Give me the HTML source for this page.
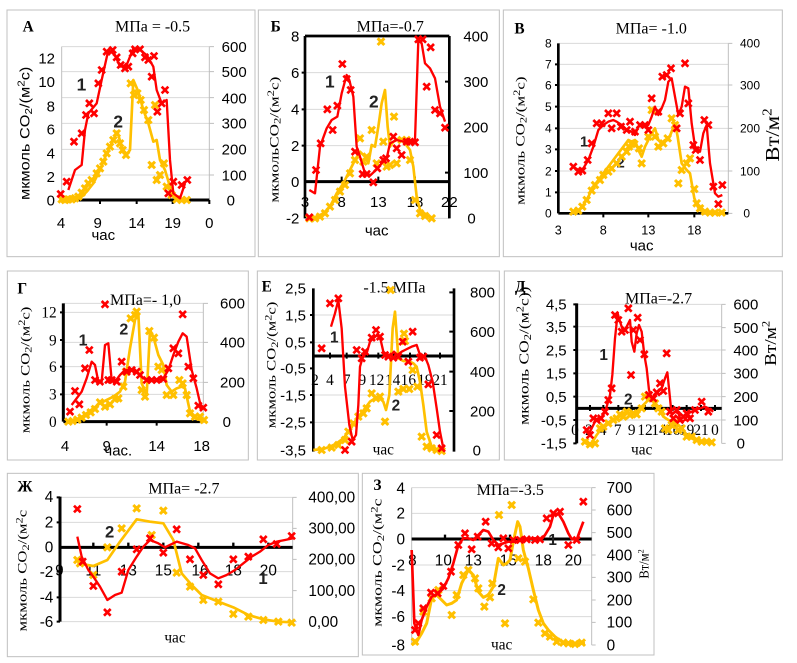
<!DOCTYPE html>
<html><head><meta charset="utf-8"><style>
html,body{margin:0;padding:0;background:#fff}
svg{display:block}
.s{font-family:"Liberation Sans",sans-serif}
.t{font-family:"Liberation Serif",serif}
.b{font-family:"Liberation Serif",serif;font-weight:bold}
.n{font-family:"Liberation Sans",sans-serif;font-weight:bold;fill:#222}
</style></head><body>
<svg width="797" height="663" viewBox="0 0 797 663" xmlns="http://www.w3.org/2000/svg">
<defs>
<g id="r"><path d="M-10,-10L10,10M-10,10L10,-10" stroke="#ff0000" stroke-width="8" fill="none"/></g>
<g id="y"><path d="M-10,-10L10,10M-10,10L10,-10" stroke="#ffc000" stroke-width="9" fill="none"/><path d="M0,-7V7M-7,0H7" stroke="#ffc000" stroke-width="5" fill="none"/></g>
</defs>
<rect width="797" height="663" fill="#fff"/>

<!-- ===== A ===== -->
<g transform="translate(0,0) scale(0.33333)">
<rect x="21" y="30" width="744" height="740" fill="none" stroke="#c0c0c0" stroke-width="3"/>
<g stroke="#d9d9d9" stroke-width="3"><line x1="185" x2="628" y1="140" y2="140"/><line x1="185" x2="628" y1="215" y2="215"/><line x1="185" x2="628" y1="293" y2="293"/><line x1="185" x2="628" y1="370" y2="370"/><line x1="185" x2="628" y1="448" y2="448"/><line x1="185" x2="628" y1="525" y2="525"/></g>
<g stroke="#bfbfbf" stroke-width="3"><line x1="185" x2="185" y1="140" y2="600"/><line x1="628" x2="628" y1="140" y2="600"/><path d="M628,140h14M628,215h14M628,293h14M628,370h14M628,448h14M628,525h14"/></g>
<line x1="185" x2="628" y1="600" y2="600" stroke="#000" stroke-width="9"/>
<path d="M300,600v12M410,600v12M518,600v12M628,600v12" stroke="#000" stroke-width="6"/>
<g class="s" font-size="45" text-anchor="end"><text x="165" y="191">12</text><text x="165" y="261">10</text><text x="165" y="334">8</text><text x="165" y="404">6</text><text x="165" y="476">4</text><text x="165" y="546">2</text><text x="165" y="616">0</text></g>
<g class="s" font-size="45"><text x="665" y="156">600</text><text x="665" y="231">500</text><text x="665" y="311">400</text><text x="665" y="386">300</text><text x="665" y="464">200</text><text x="665" y="541">100</text><text x="680" y="616">0</text></g>
<g class="s" font-size="45" text-anchor="middle"><text x="183" y="684">4</text><text x="293" y="684">9</text><text x="410" y="684">14</text><text x="518" y="684">19</text><text x="628" y="684">0</text><text x="310" y="720">час</text></g>
<text class="b" x="68" y="95" font-size="46">А</text>
<text class="t" x="345" y="95" font-size="48">МПа = -0.5</text>
<text class="s" font-size="42" text-anchor="middle" transform="rotate(-90,88,400)" x="88" y="400" textLength="400" lengthAdjust="spacingAndGlyphs">мкмоль CO<tspan font-size="30" dy="8">2</tspan><tspan dy="-8">/(м</tspan><tspan font-size="30" dy="-14">2</tspan><tspan dy="14">с)</tspan></text>
<text class="n" x="230" y="272" font-size="52">1</text><text class="n" x="340" y="382" font-size="52">2</text>
<polyline fill="none" stroke="#ffc000" stroke-width="8" stroke-linejoin="round" points="185,600 240,595 260,575 280,550 300,510 320,460 340,420 352,395 365,440 378,465 390,450 400,240 415,275 430,330 445,370 460,425 470,420 480,480 495,510 510,560 530,595 560,600"/>
<g><use href="#y" x="185" y="598"/><use href="#y" x="195" y="600"/><use href="#y" x="205" y="598"/><use href="#y" x="215" y="598"/><use href="#y" x="225" y="595"/><use href="#y" x="235" y="590"/><use href="#y" x="245" y="578"/><use href="#y" x="255" y="565"/><use href="#y" x="265" y="550"/><use href="#y" x="275" y="540"/><use href="#y" x="290" y="520"/><use href="#y" x="300" y="505"/><use href="#y" x="310" y="485"/><use href="#y" x="320" y="460"/><use href="#y" x="330" y="440"/><use href="#y" x="340" y="420"/><use href="#y" x="350" y="400"/><use href="#y" x="360" y="430"/><use href="#y" x="368" y="450"/><use href="#y" x="378" y="465"/><use href="#y" x="392" y="250"/><use href="#y" x="402" y="285"/><use href="#y" x="412" y="280"/><use href="#y" x="422" y="300"/><use href="#y" x="432" y="330"/><use href="#y" x="445" y="360"/><use href="#y" x="455" y="495"/><use href="#y" x="465" y="315"/><use href="#y" x="470" y="540"/><use href="#y" x="480" y="525"/><use href="#y" x="492" y="490"/><use href="#y" x="500" y="560"/><use href="#y" x="515" y="585"/><use href="#y" x="530" y="598"/><use href="#y" x="545" y="600"/><use href="#y" x="560" y="600"/></g>
<polyline fill="none" stroke="#ff0000" stroke-width="7" stroke-linejoin="round" points="205,570 225,510 245,495 255,390 265,340 290,310 305,240 325,150 345,165 360,200 380,195 400,145 420,150 440,165 460,200 470,270 485,310 500,300 510,480 520,580 540,595 555,550"/>
<g><use href="#r" x="182" y="582"/><use href="#r" x="200" y="545"/><use href="#r" x="222" y="425"/><use href="#r" x="245" y="400"/><use href="#r" x="258" y="345"/><use href="#r" x="268" y="310"/><use href="#r" x="282" y="340"/><use href="#r" x="295" y="250"/><use href="#r" x="305" y="210"/><use href="#r" x="320" y="155"/><use href="#r" x="338" y="150"/><use href="#r" x="350" y="172"/><use href="#r" x="362" y="195"/><use href="#r" x="375" y="205"/><use href="#r" x="385" y="200"/><use href="#r" x="398" y="160"/><use href="#r" x="405" y="148"/><use href="#r" x="420" y="148"/><use href="#r" x="435" y="172"/><use href="#r" x="445" y="180"/><use href="#r" x="462" y="168"/><use href="#r" x="455" y="230"/><use href="#r" x="472" y="335"/><use href="#r" x="485" y="310"/><use href="#r" x="495" y="270"/><use href="#r" x="505" y="580"/><use href="#r" x="520" y="545"/><use href="#r" x="545" y="555"/><use href="#r" x="562" y="540"/></g>
</g>

<!-- ===== Б ===== -->
<g transform="translate(250,0) scale(0.33333)">
<rect x="25" y="30" width="723" height="740" fill="none" stroke="#c0c0c0" stroke-width="3"/>
<g stroke="#d9d9d9" stroke-width="3"><line x1="165" x2="598" y1="218" y2="218"/><line x1="165" x2="598" y1="328" y2="328"/><line x1="165" x2="598" y1="437" y2="437"/><line x1="165" x2="598" y1="655" y2="655"/></g>
<g stroke="#000" stroke-width="8"><line x1="165" x2="165" y1="108" y2="655"/><line x1="598" x2="598" y1="108" y2="655"/><line x1="165" x2="598" y1="108" y2="108"/></g>
<path d="M585,245h13M585,382h13M585,518h13M155,218h10M155,328h10M155,437h10" stroke="#000" stroke-width="6"/>
<line x1="165" x2="598" y1="545" y2="545" stroke="#000" stroke-width="9"/>
<path d="M275,530v15M385,530v15M495,530v15" stroke="#000" stroke-width="6"/>
<g class="s" font-size="45" text-anchor="end"><text x="148" y="124">8</text><text x="148" y="234">6</text><text x="148" y="344">4</text><text x="148" y="453">2</text><text x="148" y="561">0</text><text x="148" y="671">-2</text></g>
<g class="s" font-size="45"><text x="640" y="124">400</text><text x="640" y="261">300</text><text x="640" y="398">200</text><text x="640" y="534">100</text><text x="652" y="671">0</text></g>
<g class="s" font-size="45" text-anchor="middle"><text x="165" y="621">3</text><text x="275" y="621">8</text><text x="385" y="621">13</text><text x="495" y="621">18</text><text x="598" y="621">22</text><text x="380" y="706">час</text></g>
<text class="b" x="62" y="95" font-size="46">Б</text>
<text class="t" x="320" y="95" font-size="48">МПа=-0.7</text>
<text class="t" font-size="38" text-anchor="middle" transform="rotate(-90,85,419)" x="85" y="419" textLength="378" lengthAdjust="spacingAndGlyphs">мкмольCO<tspan font-size="28" dy="7">2</tspan><tspan dy="-7">/(м</tspan><tspan font-size="28" dy="-13">2</tspan><tspan dy="13">с)</tspan></text>
<text class="n" x="225" y="262" font-size="52">1</text><text class="n" x="357" y="322" font-size="52">2</text>
<polyline fill="none" stroke="#ffc000" stroke-width="8" stroke-linejoin="round" points="178,655 200,650 220,640 240,620 260,580 280,550 300,510 315,480 330,455 345,470 355,490 365,435 375,440 385,380 395,310 405,270 413,380 420,440 430,425 440,420 450,415 465,430 480,450 490,500 500,590 510,630 530,645 550,655"/>
<g><use href="#y" x="178" y="655"/><use href="#y" x="195" y="655"/><use href="#y" x="210" y="650"/><use href="#y" x="225" y="640"/><use href="#y" x="240" y="620"/><use href="#y" x="255" y="600"/><use href="#y" x="270" y="575"/><use href="#y" x="285" y="555"/><use href="#y" x="300" y="520"/><use href="#y" x="315" y="480"/><use href="#y" x="330" y="415"/><use href="#y" x="340" y="485"/><use href="#y" x="350" y="470"/><use href="#y" x="365" y="390"/><use href="#y" x="380" y="490"/><use href="#y" x="393" y="125"/><use href="#y" x="400" y="425"/><use href="#y" x="410" y="500"/><use href="#y" x="420" y="495"/><use href="#y" x="432" y="350"/><use href="#y" x="440" y="490"/><use href="#y" x="455" y="420"/><use href="#y" x="470" y="420"/><use href="#y" x="480" y="480"/><use href="#y" x="495" y="600"/><use href="#y" x="510" y="640"/><use href="#y" x="525" y="648"/><use href="#y" x="545" y="655"/></g>
<polyline fill="none" stroke="#ff0000" stroke-width="7" stroke-linejoin="round" points="178,570 195,580 210,440 230,385 245,360 262,350 275,280 290,225 298,240 310,290 320,440 330,470 345,520 362,525 378,510 395,490 410,475 420,430 440,420 460,425 480,430 495,420 505,120 515,130 525,190 540,205 555,235 570,320 585,365"/>
<g><use href="#r" x="178" y="652"/><use href="#r" x="198" y="510"/><use href="#r" x="212" y="430"/><use href="#r" x="232" y="328"/><use href="#r" x="248" y="390"/><use href="#r" x="262" y="317"/><use href="#r" x="277" y="192"/><use href="#r" x="290" y="237"/><use href="#r" x="302" y="270"/><use href="#r" x="315" y="455"/><use href="#r" x="338" y="522"/><use href="#r" x="350" y="522"/><use href="#r" x="370" y="547"/><use href="#r" x="382" y="505"/><use href="#r" x="400" y="480"/><use href="#r" x="408" y="475"/><use href="#r" x="430" y="410"/><use href="#r" x="440" y="445"/><use href="#r" x="455" y="465"/><use href="#r" x="470" y="425"/><use href="#r" x="480" y="425"/><use href="#r" x="495" y="427"/><use href="#r" x="505" y="118"/><use href="#r" x="518" y="118"/><use href="#r" x="530" y="260"/><use href="#r" x="542" y="142"/><use href="#r" x="555" y="330"/><use href="#r" x="570" y="340"/><use href="#r" x="585" y="383"/></g>
</g>

<!-- ===== В ===== -->
<g transform="translate(495,0) scale(0.33333)">
<rect x="25" y="30" width="837" height="740" fill="none" stroke="#c0c0c0" stroke-width="3"/>
<g stroke="#d9d9d9" stroke-width="3"><line x1="190" x2="700" y1="130" y2="130"/><line x1="190" x2="700" y1="193" y2="193"/><line x1="190" x2="700" y1="255" y2="255"/><line x1="190" x2="700" y1="320" y2="320"/><line x1="190" x2="700" y1="385" y2="385"/><line x1="190" x2="700" y1="448" y2="448"/><line x1="190" x2="700" y1="513" y2="513"/><line x1="190" x2="700" y1="577" y2="577"/></g>
<g stroke="#bfbfbf" stroke-width="3"><line x1="700" x2="700" y1="130" y2="640"/><path d="M700,130h12M700,255h12M700,385h12M700,513h12M700,640h12"/></g>
<line x1="190" x2="190" y1="130" y2="640" stroke="#000" stroke-width="8"/>
<line x1="190" x2="700" y1="640" y2="640" stroke="#000" stroke-width="8"/>
<path d="M325,640v12M460,640v12M598,640v12M180,193h10M180,255h10M180,320h10M180,385h10M180,448h10M180,513h10M180,577h10" stroke="#000" stroke-width="6"/>
<g class="s" font-size="36" text-anchor="end"><text x="170" y="143">8</text><text x="170" y="206">7</text><text x="170" y="268">6</text><text x="170" y="333">5</text><text x="170" y="398">4</text><text x="170" y="461">3</text><text x="170" y="526">2</text><text x="170" y="590">1</text><text x="170" y="653">0</text></g>
<g class="s" font-size="36"><text x="735" y="143">400</text><text x="735" y="268">300</text><text x="735" y="398">200</text><text x="735" y="526">100</text><text x="745" y="653">0</text></g>
<g class="s" font-size="38" text-anchor="middle"><text x="190" y="703">3</text><text x="325" y="703">8</text><text x="460" y="703">13</text><text x="598" y="703">18</text><text x="440" y="752" font-size="45">час</text></g>
<text class="b" x="58" y="100" font-size="46">В</text>
<text class="t" x="362" y="100" font-size="48">МПа= -1.0</text>
<text class="t" font-size="38" text-anchor="middle" transform="rotate(-90,88,422)" x="88" y="422" textLength="385" lengthAdjust="spacingAndGlyphs">мкмоль CO<tspan font-size="28" dy="7">2</tspan><tspan dy="-7">/(м</tspan><tspan font-size="28" dy="-13">2</tspan><tspan dy="13">с)</tspan></text>
<text class="t" font-size="60" text-anchor="middle" transform="rotate(-90,852,405)" x="852" y="405" textLength="160" lengthAdjust="spacingAndGlyphs">Вт/м<tspan font-size="40" dy="-22">2</tspan></text>
<text class="n" x="255" y="440" font-size="44">1</text><text class="n" x="365" y="502" font-size="44">2</text>
<polyline fill="none" stroke="#ffc000" stroke-width="8" stroke-linejoin="round" points="235,640 250,635 265,615 280,590 295,560 310,540 325,520 340,500 355,480 370,460 385,440 400,420 410,425 420,420 430,450 440,470 450,440 460,420 470,400 480,385 490,420 500,430 510,420 520,420 530,395 540,370 548,410 560,490 575,510 585,520 598,595 612,628 630,640 690,640"/>
<g><use href="#y" x="235" y="635"/><use href="#y" x="250" y="632"/><use href="#y" x="262" y="620"/><use href="#y" x="275" y="600"/><use href="#y" x="290" y="572"/><use href="#y" x="300" y="555"/><use href="#y" x="315" y="540"/><use href="#y" x="325" y="525"/><use href="#y" x="340" y="515"/><use href="#y" x="350" y="505"/><use href="#y" x="365" y="490"/><use href="#y" x="380" y="470"/><use href="#y" x="395" y="455"/><use href="#y" x="402" y="440"/><use href="#y" x="410" y="432"/><use href="#y" x="418" y="432"/><use href="#y" x="432" y="445"/><use href="#y" x="440" y="490"/><use href="#y" x="460" y="410"/><use href="#y" x="470" y="330"/><use href="#y" x="480" y="410"/><use href="#y" x="490" y="440"/><use href="#y" x="505" y="430"/><use href="#y" x="518" y="415"/><use href="#y" x="530" y="355"/><use href="#y" x="540" y="375"/><use href="#y" x="550" y="550"/><use href="#y" x="560" y="510"/><use href="#y" x="575" y="490"/><use href="#y" x="585" y="475"/><use href="#y" x="598" y="567"/><use href="#y" x="605" y="610"/><use href="#y" x="615" y="625"/><use href="#y" x="630" y="635"/><use href="#y" x="645" y="638"/><use href="#y" x="660" y="638"/><use href="#y" x="680" y="638"/></g>
<polyline fill="none" stroke="#ff0000" stroke-width="7" stroke-linejoin="round" points="235,500 250,510 265,505 280,480 295,440 310,390 325,375 340,365 355,360 365,365 380,375 395,390 410,395 420,405 430,380 445,375 460,375 470,350 480,320 490,345 500,325 510,300 520,245 530,235 540,290 550,345 560,320 570,260 580,265 590,370 600,440 615,455 625,400 635,375 645,490 660,580 670,590 682,585"/>
<g><use href="#r" x="235" y="500"/><use href="#r" x="250" y="515"/><use href="#r" x="262" y="512"/><use href="#r" x="278" y="480"/><use href="#r" x="290" y="430"/><use href="#r" x="305" y="370"/><use href="#r" x="320" y="370"/><use href="#r" x="340" y="340"/><use href="#r" x="350" y="385"/><use href="#r" x="365" y="340"/><use href="#r" x="378" y="380"/><use href="#r" x="395" y="390"/><use href="#r" x="405" y="365"/><use href="#r" x="420" y="395"/><use href="#r" x="435" y="375"/><use href="#r" x="450" y="375"/><use href="#r" x="460" y="390"/><use href="#r" x="470" y="295"/><use href="#r" x="490" y="335"/><use href="#r" x="502" y="230"/><use href="#r" x="515" y="225"/><use href="#r" x="528" y="205"/><use href="#r" x="545" y="385"/><use href="#r" x="555" y="340"/><use href="#r" x="570" y="190"/><use href="#r" x="580" y="310"/><use href="#r" x="595" y="435"/><use href="#r" x="602" y="450"/><use href="#r" x="615" y="480"/><use href="#r" x="628" y="360"/><use href="#r" x="640" y="375"/><use href="#r" x="655" y="560"/><use href="#r" x="670" y="612"/><use href="#r" x="682" y="555"/></g>
</g>

<!-- ===== Г ===== -->
<g transform="translate(0,255) scale(0.33333)">
<rect x="22" y="48" width="723" height="567" fill="none" stroke="#c0c0c0" stroke-width="3"/>
<g stroke="#d9d9d9" stroke-width="3"><line x1="190" x2="610" y1="145" y2="145"/><line x1="190" x2="610" y1="172" y2="172"/><line x1="190" x2="610" y1="262" y2="262"/><line x1="190" x2="610" y1="335" y2="335"/><line x1="190" x2="610" y1="382" y2="382"/><line x1="190" x2="610" y1="418" y2="418"/></g>
<g stroke="#bfbfbf" stroke-width="3"><line x1="610" x2="610" y1="145" y2="500"/><path d="M610,145h14M610,262h14M610,382h14M610,500h14"/></g>
<line x1="190" x2="190" y1="145" y2="500" stroke="#000" stroke-width="9"/>
<line x1="190" x2="610" y1="500" y2="500" stroke="#000" stroke-width="9"/>
<path d="M320,500v12M470,500v12M180,172h10M180,255h10M180,335h10M180,418h10" stroke="#000" stroke-width="6"/>
<g class="t" font-size="46" text-anchor="end"><text x="170" y="188">12</text><text x="170" y="271">9</text><text x="170" y="351">6</text><text x="170" y="434">3</text><text x="170" y="516">0</text></g>
<g class="s" font-size="45"><text x="660" y="161">600</text><text x="660" y="278">400</text><text x="660" y="398">200</text><text x="668" y="516">0</text></g>
<g class="s" font-size="45" text-anchor="middle"><text x="195" y="588">4</text><text x="320" y="588">9</text><text x="470" y="588">14</text><text x="605" y="588">18</text><text x="355" y="602">час.</text></g>
<text class="b" x="52" y="115" font-size="46">Г</text>
<text class="t" x="330" y="150" font-size="48">МПа=- 1,0</text>
<text class="t" font-size="38" text-anchor="middle" transform="rotate(-90,88,345)" x="88" y="345" textLength="380" lengthAdjust="spacingAndGlyphs">мкмоль CO<tspan font-size="28" dy="7">2</tspan><tspan dy="-7">/(м</tspan><tspan font-size="28" dy="-13">2</tspan><tspan dy="13">с)</tspan></text>
<text class="n" x="236" y="272" font-size="48">1</text><text class="n" x="358" y="238" font-size="48">2</text>
<polyline fill="none" stroke="#ffc000" stroke-width="8" stroke-linejoin="round" points="200,500 220,498 240,490 260,475 280,460 300,445 320,435 340,425 360,410 375,380 390,280 405,195 415,175 425,385 440,420 450,225 460,245 475,300 490,330 500,390 515,410 530,400 545,395 555,400 570,470 585,490 600,495 615,500"/>
<g><use href="#y" x="205" y="500"/><use href="#y" x="218" y="498"/><use href="#y" x="232" y="494"/><use href="#y" x="245" y="488"/><use href="#y" x="258" y="480"/><use href="#y" x="272" y="472"/><use href="#y" x="285" y="462"/><use href="#y" x="300" y="442"/><use href="#y" x="315" y="455"/><use href="#y" x="330" y="448"/><use href="#y" x="345" y="432"/><use href="#y" x="355" y="430"/><use href="#y" x="370" y="395"/><use href="#y" x="378" y="350"/><use href="#y" x="392" y="190"/><use href="#y" x="405" y="180"/><use href="#y" x="410" y="170"/><use href="#y" x="425" y="405"/><use href="#y" x="435" y="425"/><use href="#y" x="448" y="228"/><use href="#y" x="462" y="248"/><use href="#y" x="475" y="335"/><use href="#y" x="485" y="345"/><use href="#y" x="500" y="420"/><use href="#y" x="520" y="420"/><use href="#y" x="538" y="375"/><use href="#y" x="548" y="385"/><use href="#y" x="560" y="420"/><use href="#y" x="570" y="475"/><use href="#y" x="585" y="485"/><use href="#y" x="600" y="485"/><use href="#y" x="612" y="495"/></g>
<polyline fill="none" stroke="#ff0000" stroke-width="7" stroke-linejoin="round" points="215,450 230,430 245,410 260,370 275,320 285,330 295,380 305,380 315,270 325,265 335,375 345,380 360,360 375,345 390,345 405,350 420,360 430,370 445,375 460,378 475,375 490,370 505,345 520,300 535,260 548,235 560,245 575,345 590,400 605,465"/>
<g><use href="#r" x="210" y="470"/><use href="#r" x="225" y="408"/><use href="#r" x="238" y="448"/><use href="#r" x="255" y="340"/><use href="#r" x="268" y="285"/><use href="#r" x="285" y="375"/><use href="#r" x="300" y="380"/><use href="#r" x="315" y="148"/><use href="#r" x="325" y="375"/><use href="#r" x="335" y="375"/><use href="#r" x="350" y="380"/><use href="#r" x="365" y="320"/><use href="#r" x="380" y="350"/><use href="#r" x="395" y="345"/><use href="#r" x="410" y="350"/><use href="#r" x="420" y="360"/><use href="#r" x="440" y="375"/><use href="#r" x="455" y="375"/><use href="#r" x="470" y="375"/><use href="#r" x="490" y="372"/><use href="#r" x="505" y="340"/><use href="#r" x="520" y="280"/><use href="#r" x="535" y="295"/><use href="#r" x="548" y="178"/><use href="#r" x="565" y="335"/><use href="#r" x="580" y="370"/><use href="#r" x="595" y="452"/><use href="#r" x="610" y="458"/></g>
</g>

<!-- ===== Е ===== -->
<g transform="translate(250,255) scale(0.33333)">
<rect x="22" y="48" width="726" height="567" fill="none" stroke="#c0c0c0" stroke-width="3"/>
<g stroke="#d9d9d9" stroke-width="3"><line x1="190" x2="612" y1="180" y2="180"/><line x1="190" x2="612" y1="262" y2="262"/><line x1="190" x2="612" y1="420" y2="420"/><line x1="190" x2="612" y1="502" y2="502"/></g>
<g stroke="#000" stroke-width="8"><line x1="190" x2="190" y1="100" y2="590"/><line x1="612" x2="612" y1="100" y2="590"/></g>
<path d="M180,180h10M180,262h10M180,340h10M180,420h10M180,502h10M598,112h14M598,230h14M598,350h14M598,468h14" stroke="#000" stroke-width="6"/>
<line x1="190" x2="612" y1="303" y2="303" stroke="#000" stroke-width="9"/>
<path d="M240,293v18M290,293v18M337,293v18M385,293v18M432,293v18M480,293v18M525,293v18M570,293v18" stroke="#000" stroke-width="6"/>
<g class="s" font-size="45" text-anchor="end"><text x="168" y="116">2,5</text><text x="168" y="196">1,5</text><text x="168" y="278">0,5</text><text x="168" y="356">-0,5</text><text x="168" y="436">-1,5</text><text x="168" y="518">-2,5</text><text x="168" y="601">-3,5</text></g>
<g class="s" font-size="45"><text x="660" y="128">800</text><text x="660" y="246">600</text><text x="660" y="366">400</text><text x="660" y="484">200</text><text x="668" y="601">0</text></g>
<g class="t" font-size="46" text-anchor="middle"><text x="195" y="390">2</text><text x="240" y="390">4</text><text x="290" y="390">7</text><text x="337" y="390">9</text><text x="380" y="390">12</text><text x="428" y="390">14</text><text x="475" y="390">16</text><text x="525" y="390">19</text><text x="570" y="390">21</text><text x="400" y="598">час</text></g>
<text class="b" x="35" y="110" font-size="46">Е</text>
<text class="t" x="340" y="112" font-size="48">-1.5 МПа</text>
<text class="t" font-size="38" text-anchor="middle" transform="rotate(-90,77,330)" x="77" y="330" textLength="380" lengthAdjust="spacingAndGlyphs">мкмоль CO<tspan font-size="28" dy="7">2</tspan><tspan dy="-7">/(м</tspan><tspan font-size="28" dy="-13">2</tspan><tspan dy="13">с)</tspan></text>
<text class="n" x="240" y="262" font-size="46">1</text><text class="n" x="425" y="466" font-size="46">2</text>
<polyline fill="none" stroke="#ffc000" stroke-width="8" stroke-linejoin="round" points="190,585 220,582 240,575 260,565 280,550 300,525 315,500 330,480 345,460 360,440 375,430 390,430 400,440 408,465 418,420 428,220 435,170 440,240 445,310 460,318 475,318 490,325 500,335 510,380 520,450 530,530 545,575 560,585 575,588"/>
<g><use href="#y" x="215" y="585"/><use href="#y" x="245" y="578"/><use href="#y" x="265" y="570"/><use href="#y" x="285" y="555"/><use href="#y" x="295" y="530"/><use href="#y" x="310" y="505"/><use href="#y" x="325" y="485"/><use href="#y" x="340" y="475"/><use href="#y" x="350" y="460"/><use href="#y" x="365" y="415"/><use href="#y" x="378" y="430"/><use href="#y" x="390" y="425"/><use href="#y" x="405" y="500"/><use href="#y" x="422" y="105"/><use href="#y" x="445" y="410"/><use href="#y" x="460" y="402"/><use href="#y" x="478" y="402"/><use href="#y" x="462" y="236"/><use href="#y" x="465" y="258"/><use href="#y" x="488" y="345"/><use href="#y" x="502" y="395"/><use href="#y" x="515" y="545"/><use href="#y" x="530" y="575"/><use href="#y" x="545" y="580"/><use href="#y" x="560" y="585"/><use href="#y" x="575" y="588"/></g>
<polyline fill="none" stroke="#ff0000" stroke-width="7" stroke-linejoin="round" points="243,215 255,175 265,135 275,220 285,395 298,510 308,555 318,540 325,450 330,335 340,300 350,295 360,260 372,248 382,240 392,255 400,290 412,300 425,298 432,290 442,300 455,290 465,285 475,280 485,275 500,270 510,300 525,305 535,330 548,380 560,460 570,530 580,580"/>
<g><use href="#r" x="215" y="280"/><use href="#r" x="240" y="145"/><use href="#r" x="265" y="130"/><use href="#r" x="285" y="585"/><use href="#r" x="305" y="560"/><use href="#r" x="320" y="285"/><use href="#r" x="335" y="310"/><use href="#r" x="345" y="290"/><use href="#r" x="365" y="248"/><use href="#r" x="378" y="225"/><use href="#r" x="390" y="245"/><use href="#r" x="405" y="300"/><use href="#r" x="415" y="305"/><use href="#r" x="430" y="308"/><use href="#r" x="445" y="305"/><use href="#r" x="458" y="260"/><use href="#r" x="475" y="320"/><use href="#r" x="488" y="230"/><use href="#r" x="510" y="308"/><use href="#r" x="520" y="305"/><use href="#r" x="535" y="388"/><use href="#r" x="560" y="540"/><use href="#r" x="575" y="580"/></g>
</g>

<!-- ===== Д ===== -->
<g transform="translate(495,255) scale(0.33333)">
<rect x="28" y="48" width="834" height="567" fill="none" stroke="#c0c0c0" stroke-width="3"/>
<g stroke="#d9d9d9" stroke-width="3"><line x1="245" x2="680" y1="148" y2="148"/><line x1="245" x2="680" y1="215" y2="215"/><line x1="245" x2="680" y1="285" y2="285"/><line x1="245" x2="680" y1="355" y2="355"/><line x1="245" x2="680" y1="425" y2="425"/><line x1="245" x2="680" y1="495" y2="495"/></g>
<g stroke="#bfbfbf" stroke-width="3"><line x1="680" x2="680" y1="148" y2="565"/><path d="M680,148h12M680,218h12M680,285h12M680,355h12M680,425h12M680,495h12M680,565h12"/></g>
<line x1="245" x2="245" y1="145" y2="565" stroke="#000" stroke-width="9"/>
<path d="M235,148h10M235,215h10M235,285h10M235,355h10M235,425h10M235,495h10M235,565h10" stroke="#000" stroke-width="6"/>
<line x1="245" x2="680" y1="460" y2="460" stroke="#000" stroke-width="9"/>
<path d="M285,450v18M325,450v18M370,450v18M410,450v18M450,450v18M492,450v18M533,450v18M575,450v18M618,450v18M660,450v18" stroke="#000" stroke-width="6"/>
<g class="s" font-size="45" text-anchor="end"><text x="215" y="164">4,5</text><text x="215" y="231">3,5</text><text x="215" y="301">2,5</text><text x="215" y="371">1,5</text><text x="215" y="441">0,5</text><text x="215" y="511">-0,5</text><text x="215" y="581">-1,5</text></g>
<g class="s" font-size="45"><text x="715" y="164">600</text><text x="715" y="234">500</text><text x="715" y="301">400</text><text x="715" y="371">300</text><text x="715" y="441">200</text><text x="715" y="511">100</text><text x="725" y="581">0</text></g>
<g class="t" font-size="46" text-anchor="middle"><text x="240" y="540">0</text><text x="282" y="540">2</text><text x="323" y="540">4</text><text x="368" y="540">7</text><text x="410" y="540">9</text><text x="450" y="540">12</text><text x="492" y="540">14</text><text x="533" y="540">16</text><text x="575" y="540">19</text><text x="618" y="540">21</text><text x="660" y="540">0</text><text x="440" y="598">час</text></g>
<text class="b" x="60" y="110" font-size="46">Д</text>
<text class="t" x="390" y="145" font-size="48">МПа=-2.7</text>
<text class="t" font-size="42" text-anchor="middle" transform="rotate(-90,100,302)" x="100" y="302" textLength="415" lengthAdjust="spacingAndGlyphs">мкмоль CO<tspan font-size="30" dy="8">2</tspan><tspan dy="-8">/(м</tspan><tspan font-size="30" dy="-14">2</tspan><tspan dy="14">с))</tspan></text>
<text class="t" font-size="52" text-anchor="middle" transform="rotate(-90,843,265)" x="843" y="265" textLength="135" lengthAdjust="spacingAndGlyphs">Вт/м<tspan font-size="34" dy="-20">2</tspan></text>
<text class="n" x="313" y="315" font-size="46">1</text><text class="n" x="387" y="448" font-size="46">2</text>
<polyline fill="none" stroke="#ffc000" stroke-width="8" stroke-linejoin="round" points="270,565 290,565 305,540 320,520 335,510 350,500 365,490 380,480 395,470 410,478 425,470 440,455 455,440 465,420 475,435 490,460 505,485 520,495 540,500 560,520 580,545 600,555 620,560 650,565"/>
<g><use href="#y" x="270" y="560"/><use href="#y" x="285" y="568"/><use href="#y" x="300" y="565"/><use href="#y" x="315" y="520"/><use href="#y" x="325" y="515"/><use href="#y" x="340" y="505"/><use href="#y" x="355" y="495"/><use href="#y" x="365" y="490"/><use href="#y" x="375" y="478"/><use href="#y" x="385" y="485"/><use href="#y" x="395" y="470"/><use href="#y" x="405" y="480"/><use href="#y" x="415" y="475"/><use href="#y" x="425" y="478"/><use href="#y" x="440" y="460"/><use href="#y" x="450" y="425"/><use href="#y" x="460" y="420"/><use href="#y" x="470" y="430"/><use href="#y" x="480" y="445"/><use href="#y" x="490" y="460"/><use href="#y" x="500" y="470"/><use href="#y" x="510" y="520"/><use href="#y" x="520" y="525"/><use href="#y" x="530" y="510"/><use href="#y" x="540" y="505"/><use href="#y" x="550" y="525"/><use href="#y" x="560" y="520"/><use href="#y" x="575" y="545"/><use href="#y" x="590" y="545"/><use href="#y" x="605" y="555"/><use href="#y" x="620" y="560"/><use href="#y" x="635" y="560"/><use href="#y" x="650" y="562"/></g>
<polyline fill="none" stroke="#ff0000" stroke-width="7" stroke-linejoin="round" points="280,540 290,520 300,500 315,490 325,480 335,455 345,420 352,360 360,250 368,175 375,200 385,230 395,215 405,195 410,260 418,290 425,235 432,210 440,230 448,300 455,340 462,405 470,430 480,420 490,410 500,400 510,370 517,352 522,400 530,480 540,470 550,475 560,500 570,495 580,475 590,470 600,465 615,460 630,455 640,460 655,470"/>
<g><use href="#r" x="275" y="525"/><use href="#r" x="285" y="540"/><use href="#r" x="295" y="490"/><use href="#r" x="305" y="495"/><use href="#r" x="318" y="490"/><use href="#r" x="330" y="470"/><use href="#r" x="340" y="435"/><use href="#r" x="350" y="400"/><use href="#r" x="360" y="180"/><use href="#r" x="370" y="195"/><use href="#r" x="380" y="230"/><use href="#r" x="390" y="225"/><use href="#r" x="400" y="160"/><use href="#r" x="408" y="360"/><use href="#r" x="415" y="225"/><use href="#r" x="428" y="188"/><use href="#r" x="435" y="255"/><use href="#r" x="448" y="298"/><use href="#r" x="462" y="420"/><use href="#r" x="475" y="430"/><use href="#r" x="485" y="412"/><use href="#r" x="495" y="385"/><use href="#r" x="505" y="408"/><use href="#r" x="515" y="295"/><use href="#r" x="525" y="470"/><use href="#r" x="535" y="490"/><use href="#r" x="545" y="465"/><use href="#r" x="555" y="495"/><use href="#r" x="565" y="485"/><use href="#r" x="575" y="475"/><use href="#r" x="585" y="490"/><use href="#r" x="600" y="465"/><use href="#r" x="620" y="440"/><use href="#r" x="640" y="470"/></g>
</g>

<!-- ===== Ж ===== -->
<g transform="translate(0,460) scale(0.33333)">
<rect x="22" y="40" width="1053" height="550" fill="none" stroke="#c0c0c0" stroke-width="3"/>
<g stroke="#d9d9d9" stroke-width="3"><line x1="180" x2="878" y1="112" y2="112"/><line x1="180" x2="878" y1="187" y2="187"/><line x1="180" x2="878" y1="335" y2="335"/><line x1="180" x2="878" y1="412" y2="412"/><line x1="180" x2="878" y1="485" y2="485"/></g>
<g stroke="#bfbfbf" stroke-width="3"><line x1="878" x2="878" y1="112" y2="485"/><path d="M878,112h12M878,205h12M878,298h12M878,392h12M878,485h12"/></g>
<line x1="180" x2="180" y1="110" y2="485" stroke="#000" stroke-width="9"/>
<path d="M170,112h10M170,187h10M170,335h10M170,412h10M170,485h10" stroke="#000" stroke-width="6"/>
<line x1="180" x2="878" y1="262" y2="262" stroke="#000" stroke-width="9"/>
<path d="M280,248v14M385,248v14M490,248v14M595,248v14M700,248v14M805,248v14" stroke="#000" stroke-width="7"/>
<g class="s" font-size="46" text-anchor="end"><text x="160" y="126">4</text><text x="160" y="203">2</text><text x="160" y="278">0</text><text x="160" y="351">-2</text><text x="160" y="428">-4</text><text x="160" y="501">-6</text></g>
<g class="s" font-size="46"><text x="925" y="128">400,00</text><text x="925" y="221">300,00</text><text x="925" y="314">200,00</text><text x="925" y="408">100,00</text><text x="925" y="501">0,00</text></g>
<g class="s" font-size="46" text-anchor="middle"><text x="178" y="346">9</text><text x="280" y="346">11</text><text x="385" y="346">13</text><text x="490" y="346">15</text><text x="600" y="346">16</text><text x="700" y="346">18</text><text x="805" y="346">20</text></g>
<text class="t" x="525" y="548" font-size="46" text-anchor="middle">час</text>
<text class="b" x="52" y="95" font-size="46">Ж</text>
<text class="t" x="445" y="100" font-size="48">МПа= -2.7</text>
<text class="t" font-size="38" text-anchor="middle" transform="rotate(-90,80,332)" x="80" y="332" textLength="365" lengthAdjust="spacingAndGlyphs">мкмоль CO<tspan font-size="28" dy="7">2</tspan><tspan dy="-7">/(м</tspan><tspan font-size="28" dy="-13">2</tspan><tspan dy="13">с</tspan></text>
<text class="n" x="775" y="372" font-size="50">1</text><text class="n" x="315" y="232" font-size="50">2</text>
<polyline fill="none" stroke="#ffc000" stroke-width="8" stroke-linejoin="round" points="232,310 280,318 322,300 360,245 410,178 450,185 490,190 520,240 545,340 575,375 605,405 655,425 700,442 745,465 790,478 835,485 878,487"/>
<g><use href="#y" x="232" y="300"/><use href="#y" x="240" y="310"/><use href="#y" x="280" y="345"/><use href="#y" x="322" y="262"/><use href="#y" x="365" y="205"/><use href="#y" x="410" y="145"/><use href="#y" x="455" y="225"/><use href="#y" x="490" y="152"/><use href="#y" x="530" y="338"/><use href="#y" x="570" y="380"/><use href="#y" x="610" y="420"/><use href="#y" x="655" y="425"/><use href="#y" x="700" y="462"/><use href="#y" x="745" y="470"/><use href="#y" x="790" y="480"/><use href="#y" x="835" y="485"/><use href="#y" x="875" y="488"/></g>
<polyline fill="none" stroke="#ff0000" stroke-width="7" stroke-linejoin="round" points="232,230 245,290 265,330 280,350 300,380 322,420 345,405 365,398 385,330 410,290 430,260 450,240 475,250 495,262 530,245 565,255 585,265 605,300 630,340 655,355 680,345 705,330 730,310 755,290 780,275 805,255 830,245 855,240 878,235"/>
<g><use href="#r" x="232" y="147"/><use href="#r" x="248" y="305"/><use href="#r" x="280" y="378"/><use href="#r" x="322" y="457"/><use href="#r" x="365" y="335"/><use href="#r" x="410" y="268"/><use href="#r" x="450" y="235"/><use href="#r" x="490" y="278"/><use href="#r" x="530" y="208"/><use href="#r" x="570" y="298"/><use href="#r" x="610" y="345"/><use href="#r" x="655" y="373"/><use href="#r" x="700" y="298"/><use href="#r" x="745" y="290"/><use href="#r" x="790" y="238"/><use href="#r" x="830" y="252"/><use href="#r" x="875" y="228"/></g>
</g>

<!-- ===== З ===== -->
<g transform="translate(355,460) scale(0.33333)">
<rect x="22" y="40" width="875" height="545" fill="none" stroke="#c0c0c0" stroke-width="3"/>
<g stroke="#d9d9d9" stroke-width="3"><line x1="170" x2="710" y1="83" y2="83"/><line x1="170" x2="710" y1="160" y2="160"/><line x1="170" x2="710" y1="315" y2="315"/><line x1="170" x2="710" y1="392" y2="392"/><line x1="170" x2="710" y1="470" y2="470"/></g>
<g stroke="#bfbfbf" stroke-width="3"><line x1="170" x2="170" y1="83" y2="555"/><line x1="710" x2="710" y1="83" y2="555"/><path d="M710,83h12M710,150h12M710,218h12M710,285h12M710,352h12M710,420h12M710,487h12M710,555h12"/></g>
<line x1="170" x2="710" y1="237" y2="237" stroke="#000" stroke-width="9"/>
<path d="M270,224v13M370,224v13M465,224v13" stroke="#000" stroke-width="7"/>
<g class="s" font-size="46" text-anchor="end"><text x="150" y="101">4</text><text x="150" y="176">2</text><text x="150" y="253">0</text><text x="150" y="331">-2</text><text x="150" y="408">-4</text><text x="150" y="486">-6</text><text x="150" y="571">-8</text></g>
<g class="s" font-size="46"><text x="755" y="99">700</text><text x="755" y="166">600</text><text x="755" y="234">500</text><text x="755" y="301">400</text><text x="755" y="368">300</text><text x="755" y="436">200</text><text x="755" y="503">100</text><text x="755" y="571">0</text></g>
<g class="s" font-size="46" text-anchor="middle"><text x="172" y="316">8</text><text x="265" y="316">10</text><text x="355" y="316">13</text><text x="460" y="316">15</text><text x="565" y="316">18</text><text x="655" y="316">20</text></g>
<text class="t" x="440" y="568" font-size="46" text-anchor="middle">час</text>
<text class="b" x="55" y="90" font-size="46">З</text>
<text class="t" x="365" y="105" font-size="48">МПа=-3.5</text>
<text class="t" font-size="38" text-anchor="middle" transform="rotate(-90,80,308)" x="80" y="308" textLength="385" lengthAdjust="spacingAndGlyphs">мкмоль CO<tspan font-size="28" dy="7">2</tspan><tspan dy="-7">/(м</tspan><tspan font-size="28" dy="-13">2</tspan><tspan dy="13">с</tspan></text>
<text class="t" font-size="40" text-anchor="middle" transform="rotate(-90,880,312)" x="880" y="312" textLength="88" lengthAdjust="spacingAndGlyphs">Вт/м<tspan font-size="26" dy="-15">2</tspan></text>
<text class="n" x="580" y="255" font-size="46">1</text><text class="n" x="427" y="405" font-size="46">2</text>
<polyline fill="none" stroke="#ffc000" stroke-width="9" stroke-linejoin="round" points="170,555 185,545 200,520 215,490 230,415 245,405 260,420 275,435 290,430 305,420 320,370 340,330 355,345 370,395 385,412 400,405 415,380 430,295 445,315 455,310 465,300 475,245 488,185 495,200 505,270 520,325 535,390 550,450 565,490 580,510 600,530 620,545 650,552 690,550"/>
<g><use href="#y" x="180" y="545"/><use href="#y" x="205" y="455"/><use href="#y" x="230" y="415"/><use href="#y" x="250" y="390"/><use href="#y" x="290" y="465"/><use href="#y" x="305" y="405"/><use href="#y" x="325" y="345"/><use href="#y" x="340" y="330"/><use href="#y" x="360" y="355"/><use href="#y" x="370" y="385"/><use href="#y" x="388" y="440"/><use href="#y" x="405" y="412"/><use href="#y" x="412" y="370"/><use href="#y" x="432" y="165"/><use href="#y" x="450" y="490"/><use href="#y" x="470" y="135"/><use href="#y" x="490" y="295"/><use href="#y" x="510" y="305"/><use href="#y" x="535" y="418"/><use href="#y" x="550" y="488"/><use href="#y" x="570" y="520"/><use href="#y" x="585" y="530"/><use href="#y" x="605" y="545"/><use href="#y" x="625" y="548"/><use href="#y" x="640" y="550"/><use href="#y" x="660" y="552"/><use href="#y" x="680" y="548"/></g>
<polyline fill="none" stroke="#ff0000" stroke-width="8" stroke-linejoin="round" points="170,270 178,490 190,525 200,480 215,440 230,410 250,400 265,385 280,355 295,310 310,255 325,235 340,235 355,240 370,225 385,210 400,215 415,240 430,255 445,250 460,245 480,245 500,240 520,237 540,235 560,237 570,225 585,200 595,165 610,160 625,185 640,220 650,237 665,240 672,220 685,185"/>
<g><use href="#r" x="180" y="510"/><use href="#r" x="190" y="490"/><use href="#r" x="205" y="445"/><use href="#r" x="228" y="398"/><use href="#r" x="248" y="400"/><use href="#r" x="265" y="378"/><use href="#r" x="288" y="335"/><use href="#r" x="310" y="255"/><use href="#r" x="330" y="220"/><use href="#r" x="350" y="268"/><use href="#r" x="368" y="230"/><use href="#r" x="392" y="185"/><use href="#r" x="410" y="250"/><use href="#r" x="430" y="262"/><use href="#r" x="445" y="235"/><use href="#r" x="460" y="265"/><use href="#r" x="475" y="240"/><use href="#r" x="495" y="240"/><use href="#r" x="515" y="238"/><use href="#r" x="540" y="240"/><use href="#r" x="555" y="238"/><use href="#r" x="575" y="175"/><use href="#r" x="595" y="160"/><use href="#r" x="615" y="155"/><use href="#r" x="640" y="255"/><use href="#r" x="665" y="240"/><use href="#r" x="685" y="125"/></g>
</g>
</svg>
</body></html>
